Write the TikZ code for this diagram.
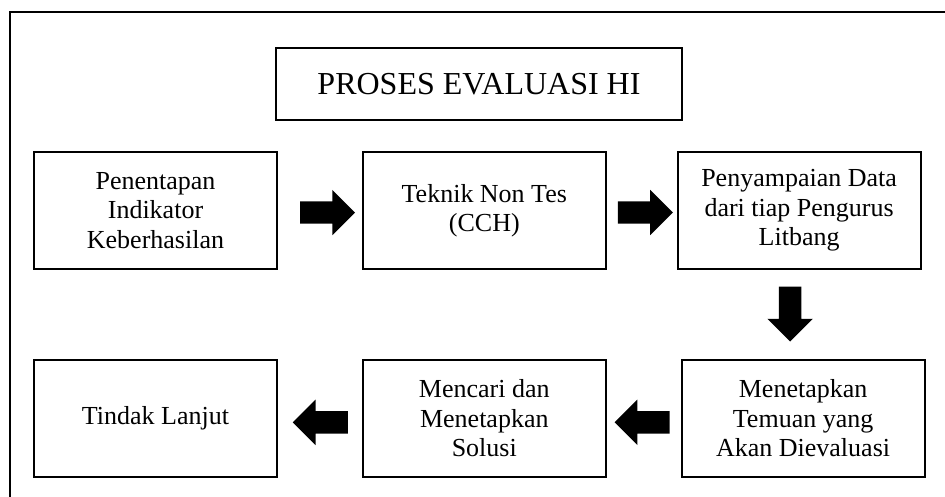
\documentclass[tikz,border=0pt]{standalone}
\usepackage{fontspec}
\setmainfont{Liberation Serif}
\usetikzlibrary{shapes,shapes.arrows,calc,positioning}
\tikzset{box/.style={draw, rectangle, line width=1.8pt, align=center, minimum width=243pt, minimum height=117pt, inner sep=2pt, font=\fontsize{26}{29.5}\selectfont}}
\tikzstyle{fat}=[single arrow, fill=black, draw=none, inner sep=0pt, inner ysep=11pt, minimum height=55pt, single arrow head extend=11.5pt, single arrow tip angle=90]

\begin{document}
\begin{tikzpicture}[x=1pt, y=-1pt, node distance=84pt]
\clip (0,0) rectangle (945,496);
\draw[line width=2.6pt] (10,12) rectangle (990,540);

\node[box, minimum width=406pt, minimum height=72pt, font=\fontsize{32}{36}\selectfont] (title) at (479,84) {PROSES EVALUASI HI};

\node[box] (b1) at (155.5,210.5) {Penentapan\\Indikator\\Keberhasilan};
\node[box, right=of b1] (b2) {Teknik Non Tes\\(CCH)};
\node[box, right=70pt of b2] (b3) {Penyampaian Data\\dari tiap Pengurus\\Litbang};
\node[box, below=89pt of b3, xshift=4pt] (b4) {Menetapkan\\Temuan yang\\Akan Dievaluasi};
\node[box, left=74pt of b4] (b5) {Mencari dan\\Menetapkan\\Solusi};
\node[box, left=of b5] (b6) {Tindak Lanjut};

% block arrows between the boxes
\node[fat] (a1) at ($(b1.east)!.5!(b2.west)+(2,2)$) {};
\node[fat] (a2) at ($(b2.east)!.5!(b3.west)+(-2,2)$) {};
\node[fat, rotate=-90] (a3) at ($(b3.south)!.5!(b4.north)+(-11,-6)$) {};
\node[fat, rotate=180] (a4) at ($(b4.west)!.5!(b5.east)+(4,4)$) {};
\node[fat, rotate=180] (a5) at ($(b5.west)!.5!(b6.east)+(6,4)$) {};
\end{tikzpicture}
\end{document}
